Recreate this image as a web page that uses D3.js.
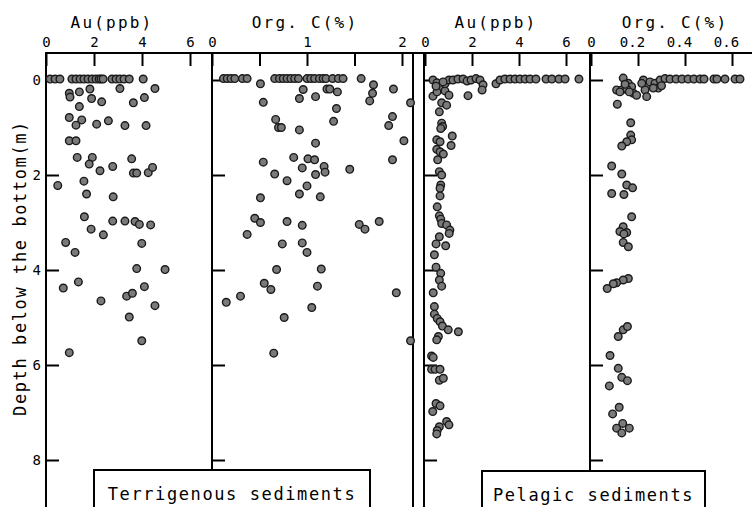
<!DOCTYPE html>
<html><head><meta charset="utf-8">
<script src="https://cdn.jsdelivr.net/npm/d3@7"></script>
<style>
body{margin:0;background:#fff}
svg{display:block}
text{font-family:"DejaVu Sans Mono",monospace;fill:#000}
</style>
</head><body>
<svg id="c" width="752" height="507"></svg>
<script>
// ---- DATA: [value, depth (m)] ----
const terrAu = [
 [0.17,-0.02],[0.38,-0.02],[0.58,-0.02],[1.08,-0.02],[1.25,-0.02],[1.42,-0.02],[1.58,-0.02],[1.75,-0.02],[1.92,-0.02],
 [2.08,-0.02],[2.21,-0.02],[2.29,-0.02],[2.38,-0.02],[2.75,-0.02],[2.92,-0.02],[3.08,-0.02],[3.25,-0.02],[3.47,-0.02],[4.05,-0.02],
 [4.54,0.18],[3.08,0.18],[1.83,0.19],[1.39,0.25],[0.97,0.28],[1.0,0.36],[1.9,0.39],[2.32,0.46],[4.1,0.37],[3.64,0.48],
 [1.39,0.56],[0.97,0.79],[1.49,0.84],[1.25,0.95],[2.11,0.93],[2.6,0.86],[3.29,0.96],[4.17,0.96],[0.97,1.28],[1.25,1.28],
 [1.3,1.63],[1.93,1.63],[1.8,1.77],[2.25,1.91],[2.78,1.82],[3.57,1.66],[3.64,1.96],[3.78,1.96],[4.26,1.95],[4.44,1.84],
 [0.49,2.22],[1.58,2.13],[1.69,2.4],[2.8,2.46],[1.6,2.88],[1.88,3.14],[2.78,2.97],[3.29,2.97],[3.71,2.98],[3.89,3.04],
 [4.36,3.05],[2.39,3.26],[0.82,3.42],[1.21,3.63],[3.99,3.44],[3.78,3.97],[4.96,3.99],[1.35,4.25],[0.72,4.38],[4.1,4.35],
 [2.29,4.65],[3.36,4.55],[3.6,4.49],[4.54,4.75],[3.47,4.99],[3.99,5.49],[0.97,5.74]
];
const terrOrgC = [
 [0.12,-0.03],[0.16,-0.03],[0.2,-0.03],[0.24,-0.03],[0.32,-0.03],[0.37,-0.03],[0.66,-0.03],[0.71,-0.03],[0.75,-0.03],
 [0.79,-0.03],[0.83,-0.03],[0.87,-0.03],[0.91,-0.03],[1.0,-0.03],[1.04,-0.03],[1.08,-0.03],[1.13,-0.03],[1.17,-0.03],
 [1.2,-0.03],[1.27,-0.03],[1.33,-0.03],[1.38,-0.03],[1.57,-0.03],
 [0.51,0.08],[0.96,0.2],[1.21,0.19],[1.24,0.19],[1.32,0.25],[0.92,0.39],[1.09,0.35],[1.7,0.1],[1.69,0.28],[1.66,0.44],
 [1.91,0.19],[2.09,0.48],[0.54,0.47],[1.31,0.6],[0.67,0.83],[0.7,1.0],[0.73,1.0],[0.92,1.05],[1.28,0.87],[1.9,0.77],
 [1.86,0.96],[2.02,1.28],[1.09,1.33],[0.86,1.63],[1.01,1.66],[1.08,1.68],[0.54,1.73],[0.95,1.85],[1.18,1.82],[1.19,1.94],
 [1.45,1.88],[1.9,1.68],[0.66,1.98],[1.09,1.99],[0.79,2.12],[1.0,2.23],[0.92,2.4],[1.14,2.46],[0.51,2.48],[0.45,2.91],
 [0.51,3.0],[0.79,2.98],[0.95,3.06],[1.55,3.04],[1.61,3.14],[1.76,2.98],[0.37,3.25],[0.74,3.45],[0.95,3.43],[1.0,3.63],
 [0.68,3.99],[1.15,3.98],[0.55,4.28],[0.62,4.41],[1.11,4.34],[0.15,4.68],[0.3,4.55],[1.05,4.79],[0.76,5.0],[0.65,5.75],
 [1.94,4.48],[2.09,5.49]
];
const pelAu = [
 [0.34,0],[0.51,0.06],[0.68,0.15],[0.85,0.23],[1.02,0.32],[0.34,0.34],[0.51,0.25],[0.85,0.08],[1.02,0.0],[0.47,0.13],
 [0.77,0.04],[1.19,0],[1.4,-0.02],[1.62,-0.02],[1.79,0.02],[1.96,0],[2.17,-0.03],[2.34,0],[2.47,0.1],[2.43,0.21],
 [1.83,0.33],[3.02,0.08],[3.19,0],[3.4,-0.02],[3.62,-0.02],[3.83,-0.02],[4.04,-0.02],[4.26,-0.02],[4.47,-0.02],[4.72,-0.02],
 [5.15,-0.02],[5.4,-0.02],[5.7,-0.02],[5.96,-0.02],[6.55,-0.02],
 [0.71,0.48],[0.92,0.53],[0.61,0.67],[0.71,0.91],[0.75,0.98],[0.67,1.02],[1.16,1.18],[0.5,1.26],[0.64,1.3],[1.11,1.38],
 [0.5,1.46],[0.64,1.51],[0.78,1.56],[0.54,1.68],[0.61,1.93],[0.71,2.0],[0.67,2.21],[0.64,2.28],[0.64,2.44],[0.52,2.67],
 [0.61,2.86],[0.67,2.93],[0.71,3.02],[0.92,3.05],[1.06,3.16],[1.03,3.23],[0.61,3.3],[0.47,3.45],[0.88,3.49],[0.4,3.68],
 [0.47,3.94],[0.67,4.07],[0.61,4.21],[0.71,4.34],[0.35,4.48],[0.4,4.77],[0.4,4.93],[0.52,5.02],[0.64,5.09],[0.74,5.18],
 [0.99,5.26],[1.42,5.3],[0.57,5.4],[0.5,5.47],[0.28,5.81],[0.35,5.84],[0.28,6.09],[0.43,6.09],[0.64,6.09],[0.61,6.32],
 [0.78,6.28],[0.47,6.81],[0.64,6.86],[0.33,6.98],[0.92,7.19],[1.02,7.26],[0.61,7.3],[0.52,7.38],[0.5,7.45]
];
const pelOrgC = [
 [0.137,-0.04],[0.159,0.07],[0.173,0.14],[0.109,0.21],[0.131,0.21],[0.152,0.19],[0.18,0.28],[0.194,0.32],[0.163,0.25],
 [0.145,0.09],[0.123,0.25],[0.223,0],[0.237,0.11],[0.23,0.21],[0.251,0.04],[0.272,0.07],[0.286,0.17],[0.294,0],
 [0.315,-0.03],[0.237,0.35],[0.216,0.07],[0.265,0.17],[0.3,0.12],
 [0.336,-0.02],[0.362,-0.02],[0.387,-0.02],[0.413,-0.02],[0.438,-0.02],[0.464,-0.02],[0.481,-0.02],[0.523,-0.02],
 [0.536,-0.02],[0.57,-0.02],[0.613,-0.02],[0.634,-0.02],
 [0.112,0.51],[0.169,0.9],[0.169,1.16],[0.173,1.26],[0.152,1.3],[0.131,1.39],[0.088,1.81],[0.131,1.98],[0.152,2.21],
 [0.177,2.27],[0.088,2.39],[0.14,2.41],[0.173,2.88],[0.137,3.09],[0.123,3.19],[0.152,3.21],[0.14,3.24],[0.137,3.42],
 [0.159,3.51],[0.159,4.18],[0.137,4.21],[0.109,4.27],[0.095,4.29],[0.069,4.39],[0.116,5.4],[0.137,5.26],[0.155,5.19],
 [0.081,5.8],[0.116,6.07],[0.131,6.26],[0.155,6.33],[0.078,6.44],[0.12,6.89],[0.092,7.03],[0.109,7.33],[0.135,7.23],
 [0.131,7.43],[0.163,7.33]
];
const depthTicks = [0,2,4,6,8];
const auTicks = [0,2,4,6];
const terrCTicks = [0,0.5,1,1.5,2];
const pelCTicks = [0,0.2,0.4,0.6];
const auTitle = "Au(ppb)";
const cTitle = "Org. C(%)";
const yTitle = "Depth below the bottom(m)";
const groupLabels = ["Terrigenous sediments","Pelagic sediments"];

// ---- LAYOUT ----
const svg = d3.select("#c");
svg.append("rect").attr("width",752).attr("height",507).attr("fill","#fff");
const TOP = 53;
const y = d3.scaleLinear().domain([0,8]).range([80,460]);

const panels = [
 {data:terrAu, x:d3.scaleLinear().domain([0,6]).range([46,190]), edge:46, ticks:auTicks,
  fmt:d=>String(d), title:auTitle, tx:112, dx:0},
 {data:terrOrgC, x:d3.scaleLinear().domain([0,2]).range([212,402]), edge:212, ticks:terrCTicks,
  fmt:d=>Number.isInteger(d)?String(d):"", title:cTitle, tx:305, dx:0},
 {data:pelAu, x:d3.scaleLinear().domain([0,6]).range([425,566]), edge:424, ticks:auTicks,
  fmt:d=>String(d), title:auTitle, tx:496, dx:0},
 {data:pelOrgC, x:d3.scaleLinear().domain([0,0.6]).range([591,732]), edge:590, ticks:pelCTicks,
  fmt:d=>d===0?"0":d3.format(".1f")(d), title:cTitle, tx:675, dx:-6}
];

const frame = svg.append("g").attr("stroke","#000").attr("stroke-width",2);
frame.append("line").attr("x1",45).attr("x2",752).attr("y1",TOP).attr("y2",TOP);
[[46,507],[212,470],[413,507],[424,507],[590,471]].forEach(([x,b])=>{
  frame.append("line").attr("x1",x).attr("x2",x).attr("y1",TOP).attr("y2",b);
});

panels.forEach((p,i)=>{
  const ax = svg.append("g").attr("transform",`translate(0,${TOP})`)
    .call(d3.axisTop(p.x).tickValues(p.ticks).tickFormat(p.fmt)
      .tickSizeInner(-13).tickSizeOuter(0).tickPadding(6));
  ax.select(".domain").remove();
  ax.selectAll("line").attr("stroke","#000").attr("stroke-width",2);
  ax.selectAll("text").attr("font-size",14).attr("font-family","DejaVu Sans Mono")
    .attr("dx", d => d===0?0:p.dx);
  svg.append("text").attr("x",p.tx).attr("y",28).attr("text-anchor","middle")
    .attr("font-size",16).attr("letter-spacing",2.2).text(p.title);
  const ay = svg.append("g").attr("transform",`translate(${p.edge},0)`)
    .call(d3.axisLeft(y).tickValues(depthTicks).tickFormat(i===0?d=>String(d):()=> "")
      .tickSizeInner(-13).tickSizeOuter(0).tickPadding(5));
  ay.select(".domain").remove();
  ay.selectAll("line").attr("stroke","#000").attr("stroke-width",2);
  ay.selectAll("text").attr("font-size",14).attr("font-family","DejaVu Sans Mono");
});

panels.forEach(p=>{
  svg.append("g").selectAll("circle").data(p.data).join("circle")
    .attr("cx",d=>p.x(d[0])).attr("cy",d=>y(d[1])).attr("r",3.8)
    .attr("fill","#7a7a7a").attr("stroke","#1a1a1a").attr("stroke-width",1.4);
});

svg.append("text").attr("transform","translate(26,268) rotate(-90)")
  .attr("text-anchor","middle").attr("font-size",17).attr("letter-spacing",1.6).text(yTitle);

[[94,370,470],[482,705,471]].forEach(([l,r,t],i)=>{
  svg.append("rect").attr("x",l).attr("y",t).attr("width",r-l).attr("height",60)
    .attr("fill","#fff").attr("stroke","#000").attr("stroke-width",2);
  svg.append("text").attr("x",(l+r)/2).attr("y",t+30).attr("text-anchor","middle")
    .attr("font-size",17).attr("letter-spacing",1.6).text(groupLabels[i]);
});
</script>
</body></html>
